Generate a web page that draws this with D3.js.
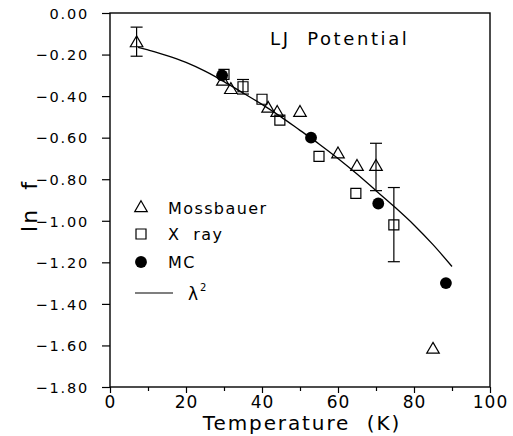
<!DOCTYPE html>
<html>
<head>
<meta charset="utf-8">
<script src="https://cdn.jsdelivr.net/npm/d3@7"></script>
<style>
  body { margin: 0; background: #fff; }
  text { font-family: "DejaVu Sans", Verdana, sans-serif; fill: #000; white-space: pre; }
</style>
</head>
<body>
<div id="chart"></div>
<script>
const WIDTH = 513;
const HEIGHT = 436;
const margin = { top: 13, right: 23, bottom: 49, left: 110 };

// Mossbauer (triangles)
const mossT = [7, 29.7, 31.8, 41.6, 44, 50, 60, 65, 70, 85];
const mossF = [-0.145, -0.33, -0.37, -0.46, -0.48, -0.48, -0.68, -0.74, -0.74, -1.62];
// error bars: [index, low, high]
const mossErr = [[0, -0.208, -0.068], [8, -0.855, -0.627]];

// X ray (squares)
const xrayT = [30, 35, 40, 44.7, 55, 64.7, 74.7];
const xrayF = [-0.295, -0.355, -0.415, -0.516, -0.69, -0.868, -1.02];
const xrayErr = [[1, -0.39, -0.32], [6, -1.197, -0.84]];

// MC (filled circles)
const mcT = [29.5, 52.9, 70.6, 88.4];
const mcF = [-0.30, -0.60, -0.917, -1.30];

// lambda^2 curve
const fitT = [7.4, 10, 15, 20, 25, 30, 35, 40, 45, 50, 55, 60, 65, 70, 75, 80, 85, 90];
const fitF = [-0.165, -0.178, -0.205, -0.238, -0.28, -0.33, -0.385, -0.44, -0.50, -0.565, -0.63, -0.70, -0.775, -0.855, -0.935, -1.02, -1.115, -1.22];

const xTicks = [0, 20, 40, 60, 80, 100];
const xMinor = [10, 30, 50, 70, 90];
const yTicks = [0, -0.2, -0.4, -0.6, -0.8, -1.0, -1.2, -1.4, -1.6, -1.8];

const svg = d3.select('#chart')
    .append('svg')
    .attr('width', WIDTH)
    .attr('height', HEIGHT);

const xScale = d3.scaleLinear()
    .domain([0, 100])
    .range([margin.left, WIDTH - margin.right]);

const yScale = d3.scaleLinear()
    .domain([-1.8, 0])
    .range([HEIGHT - margin.bottom, margin.top]);

const fmtY = d => d3.format('.2f')(d).replace('-', '\u2212');

// frame
svg.append('rect')
    .attr('x', xScale(0))
    .attr('y', yScale(0))
    .attr('width', xScale(100) - xScale(0))
    .attr('height', yScale(-1.8) - yScale(0))
    .attr('fill', 'none')
    .attr('stroke', '#000')
    .attr('stroke-width', 1.4);

// axes
const xAxis = svg.append('g')
    .attr('transform', `translate(0,${yScale(-1.8)})`)
    .call(d3.axisBottom(xScale).tickValues(xTicks).tickSize(6).tickPadding(3).tickFormat(d3.format('d')));
svg.append('g')
    .attr('transform', `translate(0,${yScale(-1.8)})`)
    .call(d3.axisBottom(xScale).tickValues(xMinor).tickSize(4).tickFormat(''));
const yAxis = svg.append('g')
    .attr('transform', `translate(${xScale(0)},0)`)
    .call(d3.axisLeft(yScale).tickValues(yTicks).tickSize(8).tickPadding(13).tickFormat(fmtY));

svg.selectAll('.domain').remove();
svg.selectAll('.tick line').attr('stroke', '#000').attr('stroke-width', 1.2);
svg.selectAll('.tick text')
    .style('font-family', '"DejaVu Sans", Verdana, sans-serif')
    .attr('fill', '#000');
xAxis.selectAll('.tick text')
    .style('font-size', '17px')
    .style('letter-spacing', '1px')
    .attr('dy', null)
    .attr('y', 21);
yAxis.selectAll('.tick text')
    .style('font-size', '14.5px')
    .style('letter-spacing', '1.8px')
    .attr('dy', '0.36em');

// axis titles
svg.append('text')
    .attr('x', xScale(50) + 2)
    .attr('y', 430)
    .attr('text-anchor', 'middle')
    .style('font-size', '20px')
    .style('letter-spacing', '1.9px')
    .text('Temperature  (K)');

svg.append('text')
    .attr('transform', 'translate(37,206) rotate(-90)')
    .attr('text-anchor', 'middle')
    .style('font-size', '22px')
    .style('letter-spacing', '2px')
    .text('ln  f');

svg.append('text')
    .attr('x', 270)
    .attr('y', 45)
    .style('font-size', '18px')
    .style('letter-spacing', '2.6px')
    .text('LJ  Potential');

// fit curve
const fitData = fitT.map((t, i) => ({ t: t, f: fitF[i] }));
const line = d3.line()
    .x(d => xScale(d.t))
    .y(d => yScale(d.f))
    .curve(d3.curveMonotoneX);
svg.append('path')
    .datum(fitData)
    .attr('d', line)
    .attr('fill', 'none')
    .attr('stroke', '#000')
    .attr('stroke-width', 1.3);

// error bars
function errorBars(err, ts) {
    err.forEach(e => {
        const x = xScale(ts[e[0]]);
        const g = svg.append('g').attr('stroke', '#000').attr('stroke-width', 1.2);
        g.append('line').attr('x1', x).attr('x2', x).attr('y1', yScale(e[1])).attr('y2', yScale(e[2]));
        g.append('line').attr('x1', x - 6).attr('x2', x + 6).attr('y1', yScale(e[1])).attr('y2', yScale(e[1]));
        g.append('line').attr('x1', x - 6).attr('x2', x + 6).attr('y1', yScale(e[2])).attr('y2', yScale(e[2]));
    });
}
errorBars(mossErr, mossT);
errorBars(xrayErr, xrayT);

const tri = d3.symbol().type(d3.symbolTriangle).size(68);
const sq = d3.symbol().type(d3.symbolSquare).size(100);
const circ = d3.symbol().type(d3.symbolCircle).size(110);

// squares
svg.selectAll('.xray')
    .data(xrayT)
    .enter()
    .append('path')
    .attr('transform', (d, i) => `translate(${xScale(d)},${yScale(xrayF[i])})`)
    .attr('d', sq)
    .attr('fill', 'none')
    .attr('stroke', '#000')
    .attr('stroke-width', 1.2);

// triangles
svg.selectAll('.moss')
    .data(mossT)
    .enter()
    .append('path')
    .attr('transform', (d, i) => `translate(${xScale(d)},${yScale(mossF[i])})`)
    .attr('d', tri)
    .attr('fill', 'none')
    .attr('stroke', '#000')
    .attr('stroke-width', 1.2);

// circles
svg.selectAll('.mc')
    .data(mcT)
    .enter()
    .append('path')
    .attr('transform', (d, i) => `translate(${xScale(d)},${yScale(mcF[i])})`)
    .attr('d', circ)
    .attr('fill', '#000');

// legend
const legend = svg.append('g').attr('transform', 'translate(141,0)');
legend.append('path').attr('transform', 'translate(0,208)').attr('d', tri)
    .attr('fill', 'none').attr('stroke', '#000').attr('stroke-width', 1.2);
legend.append('path').attr('transform', 'translate(0,234)').attr('d', sq)
    .attr('fill', 'none').attr('stroke', '#000').attr('stroke-width', 1.2);
legend.append('path').attr('transform', 'translate(0,262)').attr('d', circ)
    .attr('fill', '#000');
legend.append('line').attr('x1', -6).attr('x2', 32).attr('y1', 293).attr('y2', 293)
    .attr('stroke', '#000').attr('stroke-width', 1.2);
const legendText = ['Mossbauer', 'X  ray', 'MC'];
const legendY = [214, 240, 268];
legendText.forEach((t, i) => {
    legend.append('text').attr('x', 27).attr('y', legendY[i])
        .style('font-size', '16px').style('letter-spacing', '1.4px').text(t);
});
const lam = legend.append('text').attr('x', 47).attr('y', 300).style('font-size', '17px');
lam.append('tspan').text('\u03bb');
lam.append('tspan').attr('dx', 2).attr('dy', -9).style('font-size', '10px').text('2');
</script>
</body>
</html>
